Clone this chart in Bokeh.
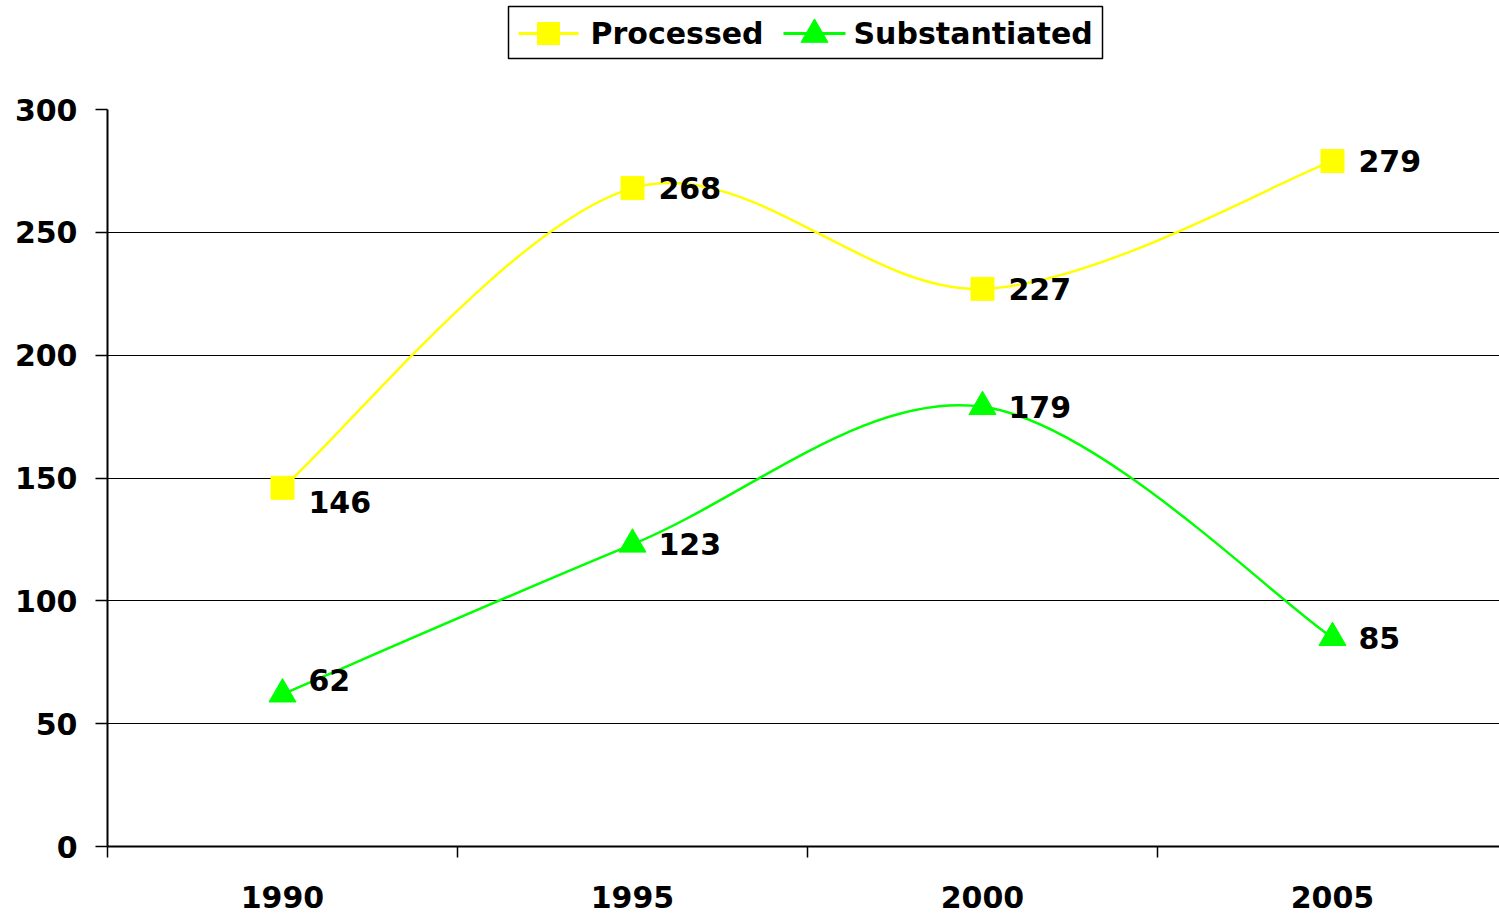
from bokeh.plotting import figure
from bokeh.models import ColumnDataSource, Range1d, FixedTicker
from bokeh.layouts import column
from bokeh.core.properties import value
from bokeh.embed import file_html
from bokeh.resources import INLINE

years = ["1990", "1995", "2000", "2005"]
series_names = ["Processed", "Substantiated"]
processed = [146, 268, 227, 279]
substantiated = [62, 123, 179, 85]

# label placement (screen px offsets), style only
proc_label_dy = [14, 0, 0, 0]
subs_label_dy = [-14, 0, 0, 0]

FONT = "DejaVu Sans"
YELLOW = "#FFFF00"
GREEN = "#00FF00"
W = 1499
TOTAL_H = 913
LEG_H = 90
MAIN_H = TOTAL_H - LEG_H
FRAME_LEFT = 107
FRAME_TOP = 109
FRAME_BOTTOM = 846
CAT_PX = 350.0  # pixel width of one category band (right band runs off the edge)

xs = [i + 0.5 for i in range(len(years))]

# ---------------- legend strip (frame aligned with main frame) ----------------
leg = figure(width=W, height=LEG_H, x_range=Range1d(FRAME_LEFT, W), y_range=Range1d(LEG_H, 0),
             output_backend="svg", toolbar_location=None,
             x_axis_location=None, y_axis_location=None, min_border=0)
leg.grid.visible = False
leg.outline_line_color = None
cy = 33
leg.quad(left=[508], right=[1102], top=[6], bottom=[58], fill_color="white",
         line_color="black", line_width=1.5)
leg.segment(x0=[518, 783], y0=[cy, cy], x1=[578, 845], y1=[cy, cy],
            line_color=[YELLOW, GREEN], line_width=3)
leg.scatter([548], [cy], marker="square", size=22, fill_color=YELLOW, line_color=YELLOW)
leg.scatter([814], [cy + 1], marker="triangle", size=27, fill_color=GREEN, line_color=GREEN)
leg.text([590, 853], [cy, cy], text=series_names, text_align="left", text_baseline="middle",
         text_font=value(FONT), text_font_style="bold", text_font_size="30px",
         text_color="black")

# ---------------- main chart ----------------
p = figure(width=W, height=MAIN_H, output_backend="svg", toolbar_location=None,
           x_range=Range1d(0, (W - FRAME_LEFT) / CAT_PX), y_range=Range1d(0, 300))
p.min_border_right = 0
p.min_border_left = FRAME_LEFT
p.min_border_top = FRAME_TOP - LEG_H
p.min_border_bottom = TOTAL_H - FRAME_BOTTOM
p.outline_line_color = None


def bezier_source(x, y):
    n = len(x)
    d = dict(x0=[], y0=[], x1=[], y1=[], cx0=[], cy0=[], cx1=[], cy1=[])
    for i in range(n - 1):
        pm = max(i - 1, 0)
        pn = min(i + 2, n - 1)
        d["x0"].append(x[i]); d["y0"].append(y[i])
        d["x1"].append(x[i + 1]); d["y1"].append(y[i + 1])
        d["cx0"].append(x[i] + (x[i + 1] - x[pm]) / 6.0)
        d["cy0"].append(y[i] + (y[i + 1] - y[pm]) / 6.0)
        d["cx1"].append(x[i + 1] - (x[pn] - x[i]) / 6.0)
        d["cy1"].append(y[i + 1] - (y[pn] - y[i]) / 6.0)
    return ColumnDataSource(d)


p.xgrid.grid_line_color = None
p.ygrid.grid_line_color = "black"
p.ygrid.grid_line_width = 1
p.yaxis.ticker = FixedTicker(ticks=[0, 50, 100, 150, 200, 250, 300])
p.yaxis.minor_tick_line_color = None
p.yaxis.major_tick_out = 12
p.yaxis.major_tick_in = 0
p.yaxis.axis_line_width = 2
p.yaxis.axis_line_color = "black"
p.yaxis.major_tick_line_width = 1.5
p.yaxis.major_label_standoff = 18
p.yaxis.major_label_text_font = FONT
p.yaxis.major_label_text_font_style = "bold"
p.yaxis.major_label_text_font_size = "30px"
p.yaxis.major_label_text_color = "black"

p.xaxis.ticker = FixedTicker(ticks=xs, minor_ticks=list(range(len(years))))
p.xaxis.major_label_overrides = {x: y for x, y in zip(xs, years)}
p.xaxis.major_tick_line_color = None
p.xaxis.major_tick_out = 0
p.xaxis.major_tick_in = 0
p.xaxis.minor_tick_out = 11
p.xaxis.minor_tick_in = 0
p.xaxis.minor_tick_line_width = 1.5
p.xaxis.minor_tick_line_color = "black"
p.xaxis.axis_line_width = 2
p.xaxis.axis_line_color = "black"
p.xaxis.major_label_standoff = 28
p.xaxis.major_label_text_font = FONT
p.xaxis.major_label_text_font_style = "bold"
p.xaxis.major_label_text_font_size = "30px"
p.xaxis.major_label_text_color = "black"

src_p = bezier_source(xs, processed)
src_s = bezier_source(xs, substantiated)
p.bezier("x0", "y0", "x1", "y1", "cx0", "cy0", "cx1", "cy1", source=src_p,
         line_color=YELLOW, line_width=2.5)
p.bezier("x0", "y0", "x1", "y1", "cx0", "cy0", "cx1", "cy1", source=src_s,
         line_color=GREEN, line_width=2.5)

pts_p = ColumnDataSource(dict(x=xs, y=processed, t=[str(v) for v in processed], dy=proc_label_dy))
pts_s = ColumnDataSource(dict(x=xs, y=substantiated, t=[str(v) for v in substantiated], dy=subs_label_dy))

p.scatter("x", "y", source=pts_p, marker="square", size=23, fill_color=YELLOW, line_color=YELLOW)
p.scatter("x", "y", source=pts_s, marker="triangle", size=27, fill_color=GREEN, line_color=GREEN)

for src in (pts_p, pts_s):
    p.text("x", "y", text="t", source=src, x_offset=26, y_offset="dy",
           text_align="left", text_baseline="middle",
           text_font=value(FONT), text_font_style="bold",
           text_font_size="30px", text_color="black")

layout = column(leg, p, spacing=0)
open("out.html", "w").write(file_html(layout, INLINE))
